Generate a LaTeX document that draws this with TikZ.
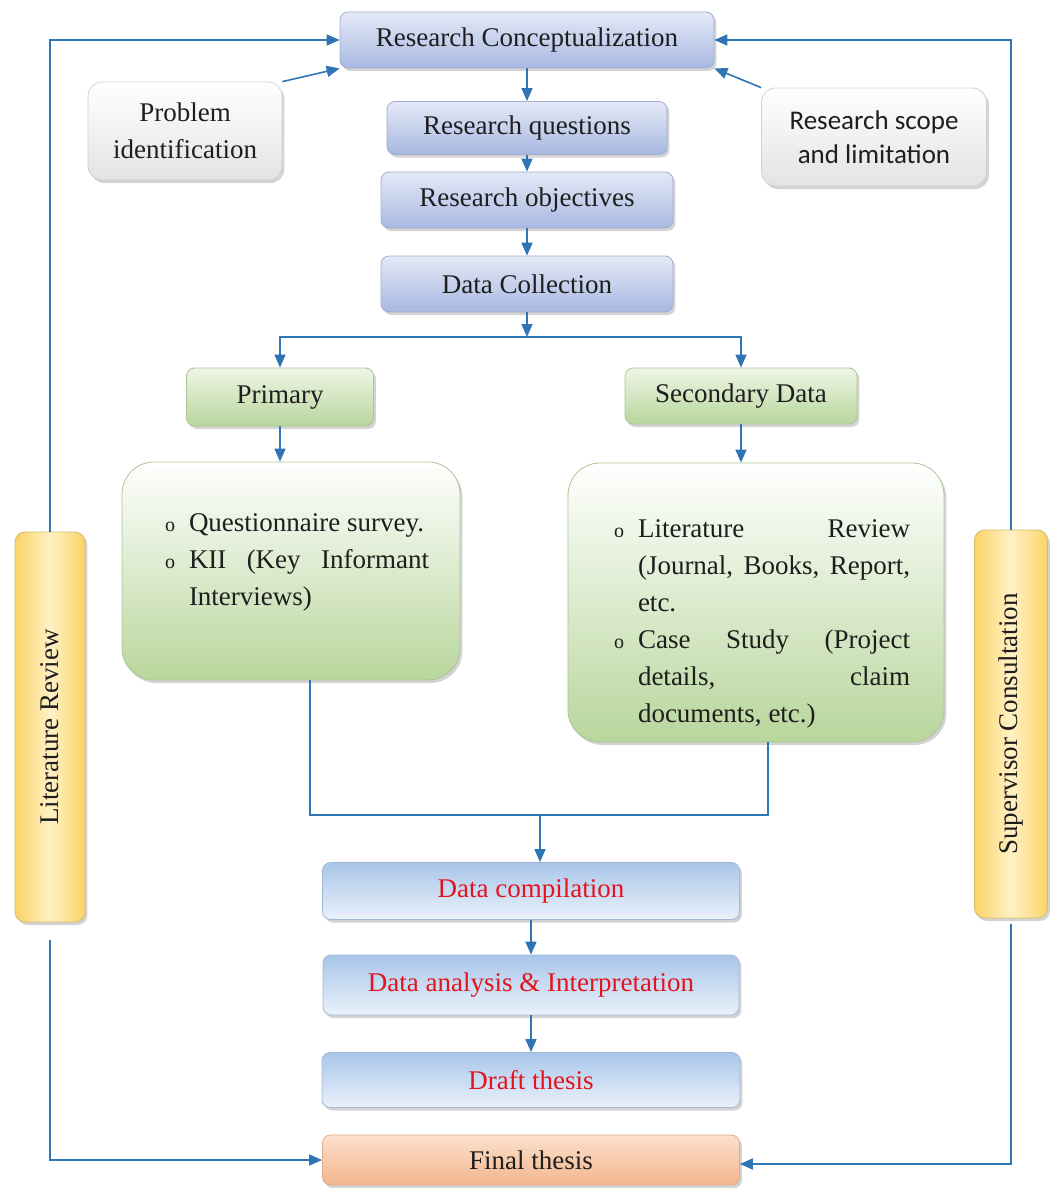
\documentclass[tikz,border=0pt]{standalone}
\usepackage{fontspec}
\setmainfont{Liberation Serif}
\newfontfamily\scopefont{Carlito}
\usepackage{xcolor}
\usepackage{graphicx}
\usepackage{tikz}
\usetikzlibrary{calc,positioning,arrows.meta,shapes,shadows}

\definecolor{flowblue}{HTML}{2F75B5}
\definecolor{textred}{HTML}{E3141E}
\definecolor{inkgray}{HTML}{1E1E1E}
\definecolor{stagetop}{HTML}{E4E9F6}
\definecolor{stagebot}{HTML}{A8B8E2}
\definecolor{outtop}{HTML}{A9C6EA}
\definecolor{outbot}{HTML}{EAF1FA}
\definecolor{greentop}{HTML}{EEF5E6}
\definecolor{greenbot}{HTML}{B8D69C}
\definecolor{sideedge}{HTML}{FAD468}
\definecolor{sidemid}{HTML}{FFF1C4}
\definecolor{peachtop}{HTML}{FCE0CC}
\definecolor{peachbot}{HTML}{F3B68E}

\tikzset{
    base/.style={rounded corners=4pt, inner sep=0pt, line width=0.4pt,
        drop shadow={shadow xshift=1.2pt, shadow yshift=-1.5pt, opacity=0.35}},
    stage/.style={base, draw=stagebot!80!gray, top color=stagetop, bottom color=stagebot},
    outcome/.style={base, draw=outtop!80!gray, top color=outtop, bottom color=outbot, text=textred},
    branch/.style={base, draw=greenbot!80!gray, top color=greentop, bottom color=greenbot},
    listbox/.style={base, rounded corners=16pt, draw=greenbot!80!gray, top color=white, bottom color=greenbot},
    note/.style={base, rounded corners=7pt, draw=gray!35, top color=white, bottom color=gray!22},
    side/.style={base, rounded corners=5pt, draw=sideedge!70!gray, left color=sideedge, right color=sideedge, middle color=sidemid},
    finalbox/.style={base, draw=peachbot!80!gray, top color=peachtop, bottom color=peachbot},
    listtext/.style={anchor=north, align=justify, inner sep=0pt},
}

\newcommand{\bulletlist}[1]{%
    \begin{list}{\fontsize{10}{10}\selectfont o}{\leftmargin=16pt\labelwidth=9pt\labelsep=7pt\topsep=0pt\itemsep=0pt\parsep=0pt\partopsep=0pt}#1\end{list}}

\begin{document}
\begin{tikzpicture}[x=0.5pt, y=-0.5pt, align=center, text=inkgray,
        font=\fontsize{13.5}{18.5}\selectfont, >={Triangle[length=6.5pt,width=5.5pt]}]
        \useasboundingbox (0,0) rectangle (1049,1188);

        \node [stage, minimum width=187pt, minimum height=28pt] (rc) at (527,40) {Research Conceptualization};
        \node [note, minimum width=97pt, minimum height=49pt] (prob) at (185,131) {Problem\\identification};
        \node [note, minimum width=112.5pt, minimum height=49pt, font=\scopefont\fontsize{13.5}{17}\selectfont] (scope) at (874,137) {Research scope\\and limitation};

        \node [stage, minimum width=140pt, minimum height=26.5pt] (rq) at (527,128) {Research questions};
        \node [stage, minimum width=146pt, minimum height=28pt] (ro) at (527,200) {Research objectives};
        \node [stage, minimum width=146pt, minimum height=28pt] (dc) at (527,284) {Data Collection};
        \coordinate (split) at (527,337);

        \node [branch, minimum width=93.5pt, minimum height=29pt] (prim) at (280,397) {Primary};
        \node [branch, minimum width=116pt, minimum height=28pt] (sec) at (741,396) {Secondary Data};

        \node [listbox, minimum width=169pt, minimum height=109pt] (plist) at (291,571) {};
        \node [listtext, text width=136pt] (plisttext) at (293,494) {\bulletlist{%
            \item Questionnaire survey.
            \item KII (Key Informant\linebreak Interviews)}};

        \node [listbox, minimum width=188pt, minimum height=139.5pt] (slist) at (756,602.5) {};
        \node [listtext, text width=152pt] (slisttext) at (758,500) {\bulletlist{%
            \item Literature Review\linebreak (Journal, Books, Report,\linebreak etc.
            \item Case Study (Project\linebreak details, claim\linebreak documents, etc.)}};

        \coordinate (merge) at (540,815);

        \node [outcome, minimum width=208.5pt, minimum height=28.5pt] (comp) at (531,891) {Data compilation};
        \node [outcome, minimum width=208pt, minimum height=30pt] (anal) at (531,985) {Data analysis \& Interpretation};
        \node [outcome, minimum width=209pt, minimum height=27.5pt] (draft) at (531,1080) {Draft thesis};
        \node [finalbox, minimum width=208.5pt, minimum height=25pt] (final) at (531,1160) {Final thesis};

        \node [side, minimum width=35pt, minimum height=195pt] (lit) at (50,727) {\rotatebox{90}{Literature Review}};
        \node [side, minimum width=36.5pt, minimum height=194pt] (sup) at (1011,724) {\rotatebox{90}{Supervisor Consultation}};

        \begin{scope}[draw=flowblue, line width=0.8pt]
            \draw[->] (prob.north east) -- (rc.south west);
            \draw[->] (scope.north west) -- (rc.south east);
            \draw[->] (rc) -- (rq);
            \draw[->] (rq) -- (ro);
            \draw[->] (ro) -- (dc);
            \draw[->] (dc) -- (split);
            \draw[->] (split) -| (prim);
            \draw[->] (split) -| (sec);
            \draw[->] (prim) -- (prim |- plist.north);
            \draw[->] (sec) -- (sec |- slist.north);
            \draw ([xshift=9.5pt]plist.south) |- (merge) -| ([xshift=6pt]slist.south);
            \draw[->] (merge) -- (merge |- comp.north);
            \draw[->] (comp) -- (anal);
            \draw[->] (anal) -- (draft);

            % feedback loops
            \draw[->] (lit.north) |- (rc.west);
            \draw[->] (sup.north) |- (rc.east);
            \draw[->, shorten <=9pt] (lit.south) |- (final.west);
            \draw[->, shorten <=3pt] (sup.south) |- ([yshift=-2pt]final.east);
        \end{scope}

    \end{tikzpicture}
\end{document}
